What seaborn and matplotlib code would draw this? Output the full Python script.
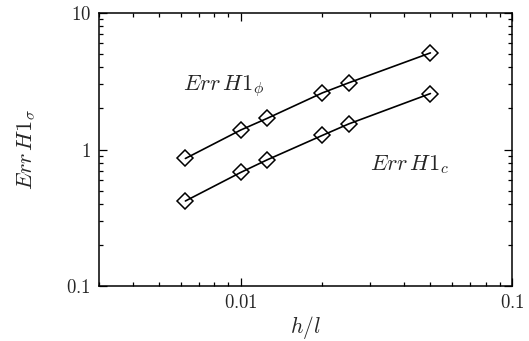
import numpy as np
import pandas as pd
import matplotlib
matplotlib.use("Agg")
import matplotlib.pyplot as plt
import matplotlib.ticker as mticker
import seaborn as sns

# ── Data ──────────────────────────────────────────────────────────────────────
h_over_l   = [0.00625, 0.01, 0.0125, 0.02, 0.025, 0.05]
err_phi    = [0.86, 1.39, 1.69, 2.60, 3.08, 5.10]
err_c      = [0.42, 0.68, 0.84, 1.27, 1.54, 2.57]

df = pd.DataFrame({
    "h": h_over_l * 2,
    "err": err_phi + err_c,
    "series": ["phi"] * len(h_over_l) + ["c"] * len(h_over_l),
})

sns.set_style("ticks")
plt.rcParams["font.family"] = ["DejaVu Serif"]
plt.rcParams["mathtext.fontset"] = "cm"

fig = plt.figure(figsize=(5.29, 3.41), dpi=100)
ax = fig.add_axes([0.187, 0.161, 0.781, 0.801])

for name in ["phi", "c"]:
    sns.lineplot(data=df[df["series"] == name], x="h", y="err", ax=ax,
                 color="black", linewidth=1.2, marker="D", markersize=8,
                 markerfacecolor="none", markeredgecolor="black",
                 markeredgewidth=1.1)

ax.set_xscale("log")
ax.set_yscale("log")
ax.set_xlim(0.003, 0.1)
ax.set_ylim(0.1, 10)

ax.xaxis.set_major_locator(mticker.FixedLocator([0.01, 0.1]))
ax.xaxis.set_major_formatter(mticker.FixedFormatter([r"$0.01$", r"$0.1$"]))
ax.yaxis.set_major_locator(mticker.FixedLocator([0.1, 1, 10]))
ax.yaxis.set_major_formatter(mticker.FixedFormatter([r"$0.1$", r"$1$", r"$10$"]))
ax.xaxis.set_minor_locator(mticker.LogLocator(base=10, subs=np.arange(2, 10)))
ax.yaxis.set_minor_locator(mticker.LogLocator(base=10, subs=np.arange(2, 10)))
ax.xaxis.set_minor_formatter(mticker.NullFormatter())
ax.yaxis.set_minor_formatter(mticker.NullFormatter())

ax.tick_params(which="both", direction="in", top=True, right=True,
               color="black", width=0.9)
ax.tick_params(which="major", length=6, labelsize=13.5, pad=6)
ax.tick_params(which="minor", length=3)
for sp in ax.spines.values():
    sp.set_color("black")
    sp.set_linewidth(1.1)

ax.set_xlabel(r"$h/l$", fontsize=15.5, labelpad=1)
ax.set_ylabel(r"$Err\,H1_\sigma$", fontsize=16, labelpad=20)

ax.text(0.0061, 2.9, r"$Err\,H1_\phi$", fontsize=16, ha="left", va="center")
ax.text(0.030, 0.77, r"$Err\,H1_c$", fontsize=16, ha="left", va="center")

fig.savefig("out.png", dpi=100)
